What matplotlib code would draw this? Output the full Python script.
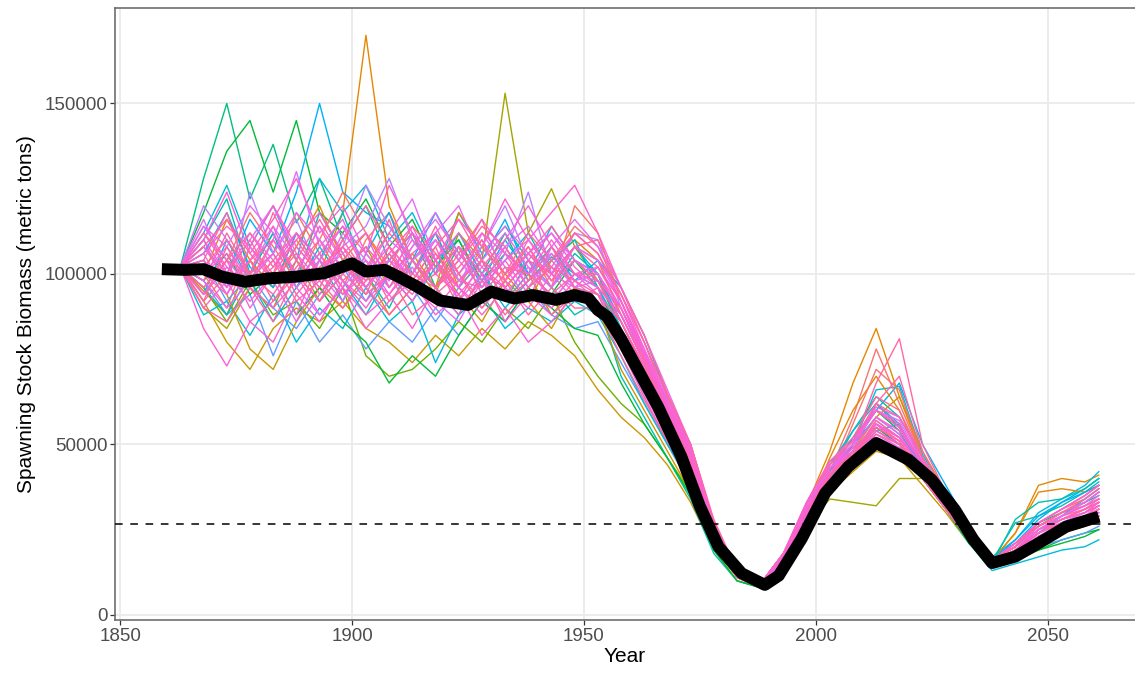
import matplotlib
matplotlib.use("Agg")
import matplotlib.pyplot as plt

# simulation years for the coloured runs
years = [1863, 1868, 1873, 1878, 1883, 1888, 1893, 1898, 1903, 1908,
         1913, 1918, 1923, 1928, 1933, 1938, 1943, 1948, 1953, 1958,
         1963, 1968, 1973, 1978, 1983, 1988, 1993, 1998, 2003, 2008,
         2013, 2018, 2023, 2028, 2033, 2038, 2043, 2048, 2053, 2058, 2061]

# spawning stock biomass of each run, thousand metric tons
runs = [
    [102, 128, 150, 122, 138, 115, 128, 110, 120, 104, 112, 96, 108, 100, 112, 98, 105, 100, 96,
     82, 68, 54, 41, 23, 12, 9, 17, 29, 40, 48, 62, 55, 44, 34, 24, 16, 20, 27, 30, 33, 35],
    [102, 95, 88, 104, 96, 112, 100, 118, 170, 120, 104, 112, 96, 104, 92, 100, 88, 96, 90,
     78, 64, 50, 38, 21, 11, 8, 16, 32, 48, 68, 84, 64, 46, 35, 24, 16, 24, 38, 40, 39, 41],
    [102, 90, 84, 96, 90, 104, 92, 100, 108, 96, 104, 94, 112, 104, 153, 112, 125, 108, 98,
     84, 70, 55, 42, 23, 12, 9, 15, 26, 34, 33, 32, 40, 40, 31, 22, 15, 18, 23, 26, 28, 29],
    [102, 112, 126, 108, 120, 104, 128, 118, 126, 110, 118, 104, 110, 96, 104, 112, 100, 108, 100,
     84, 70, 56, 43, 24, 13, 9, 18, 30, 41, 50, 66, 67, 47, 36, 25, 17, 22, 30, 34, 38, 42],
    [102, 92, 80, 72, 84, 90, 86, 92, 84, 80, 74, 82, 76, 84, 78, 86, 82, 76, 66,
     58, 52, 44, 33, 19, 10, 8, 15, 25, 36, 42, 48, 46, 38, 30, 21, 14, 17, 21, 24, 26, 28],
    [102, 118, 136, 145, 124, 145, 118, 112, 122, 108, 116, 102, 110, 98, 106, 100, 94, 104, 96,
     80, 66, 52, 40, 22, 12, 9, 16, 28, 38, 50, 60, 54, 42, 32, 22, 15, 17, 19, 22, 24, 25],
    [102, 108, 100, 116, 106, 124, 150, 124, 118, 114, 104, 118, 106, 98, 110, 100, 114, 104, 100,
     86, 72, 58, 45, 25, 13, 9, 17, 29, 42, 52, 60, 68, 50, 38, 26, 17, 21, 28, 33, 37, 40],
    [102, 96, 86, 98, 88, 92, 84, 96, 76, 70, 72, 78, 86, 80, 90, 84, 94, 80, 70,
     62, 56, 46, 36, 20, 11, 8, 15, 27, 38, 46, 54, 50, 40, 31, 22, 15, 18, 22, 24, 26, 28],
    [102, 110, 96, 124, 106, 116, 100, 108, 114, 128, 110, 100, 108, 94, 106, 124, 100, 112, 110,
     90, 74, 58, 44, 24, 12, 9, 17, 28, 39, 47, 55, 50, 42, 33, 23, 15, 19, 25, 28, 31, 33],
    [102, 110, 122, 100, 112, 98, 118, 106, 96, 104, 112, 100, 118, 106, 114, 104, 96, 106, 100,
     82, 68, 54, 42, 23, 12, 9, 17, 30, 42, 52, 60, 55, 44, 34, 24, 16, 27, 29, 32, 36, 39],
    [102, 100, 90, 108, 100, 118, 106, 96, 110, 118, 104, 96, 106, 116, 98, 108, 96, 120, 112,
     92, 76, 60, 46, 25, 13, 9, 16, 29, 42, 58, 78, 62, 46, 35, 24, 16, 20, 26, 30, 33, 36],
    [102, 98, 88, 94, 76, 92, 80, 88, 78, 86, 80, 90, 82, 92, 86, 96, 88, 84, 86,
     74, 62, 50, 38, 21, 11, 8, 16, 29, 40, 47, 52, 48, 40, 31, 22, 14, 16, 20, 22, 24, 26],
    [102, 88, 92, 82, 94, 80, 90, 84, 96, 86, 92, 74, 88, 94, 84, 90, 86, 92, 88,
     76, 62, 50, 39, 22, 12, 9, 16, 28, 38, 46, 54, 56, 42, 31, 21, 13, 15, 17, 19, 20, 22],
    [102, 100, 116, 104, 96, 108, 120, 104, 112, 100, 106, 96, 118, 108, 100, 92, 104, 110, 104,
     88, 74, 60, 47, 26, 13, 9, 16, 30, 46, 60, 70, 60, 44, 33, 23, 16, 24, 36, 37, 36, 38],
    [102, 106, 118, 102, 96, 112, 104, 92, 106, 118, 100, 112, 98, 104, 116, 100, 108, 98, 104,
     96, 82, 64, 50, 27, 13, 9, 18, 31, 42, 50, 58, 53, 44, 34, 24, 16, 22, 29, 33, 36, 38],
    [102, 96, 88, 100, 112, 96, 104, 118, 100, 90, 104, 96, 88, 100, 92, 104, 96, 88, 92,
     70, 58, 46, 34, 18, 10, 8, 16, 30, 42, 54, 64, 58, 46, 35, 24, 15, 28, 33, 34, 37, 40],
    [102, 104, 94, 78, 72, 86, 96, 90, 100, 88, 96, 104, 94, 86, 98, 92, 84, 96, 90,
     72, 60, 48, 36, 20, 11, 8, 15, 27, 39, 48, 58, 64, 48, 36, 24, 16, 20, 26, 30, 32, 34],
    [102, 112, 104, 118, 108, 98, 110, 124, 112, 102, 114, 106, 96, 108, 100, 112, 104, 114, 108,
     94, 80, 62, 48, 26, 13, 9, 17, 29, 40, 56, 72, 66, 46, 34, 24, 16, 21, 27, 31, 34, 37],
    [102, 98, 106, 94, 100, 88, 96, 86, 80, 68, 76, 70, 82, 92, 86, 96, 90, 84, 82,
     68, 56, 46, 35, 19, 10, 8, 15, 28, 38, 47, 55, 50, 40, 31, 21, 14, 16, 19, 21, 23, 25],
    [102, 104, 92, 100, 90, 84, 94, 102, 92, 104, 96, 86, 96, 104, 92, 100, 106, 96, 94,
     80, 66, 53, 41, 22, 12, 9, 17, 30, 42, 48, 56, 52, 43, 33, 23, 15, 18, 24, 27, 30, 32],
    [102, 120, 110, 100, 114, 104, 96, 108, 126, 114, 104, 110, 100, 108, 120, 104, 96, 104, 100,
     88, 74, 58, 44, 24, 12, 9, 16, 27, 38, 46, 52, 48, 40, 32, 22, 15, 19, 24, 27, 29, 31],
    [102, 94, 110, 98, 86, 96, 108, 98, 88, 100, 92, 102, 112, 100, 90, 98, 104, 110, 96,
     84, 70, 56, 43, 24, 12, 9, 17, 31, 44, 54, 62, 56, 44, 34, 24, 16, 19, 24, 29, 34, 37],
    [102, 114, 104, 96, 110, 130, 108, 116, 100, 112, 122, 104, 96, 112, 102, 92, 108, 116, 108,
     96, 82, 66, 50, 27, 13, 9, 18, 32, 43, 48, 56, 50, 42, 33, 23, 15, 19, 25, 29, 32, 34],
    [102, 84, 73, 86, 80, 94, 86, 98, 90, 100, 92, 104, 96, 88, 96, 104, 92, 100, 94,
     86, 72, 58, 45, 25, 12, 9, 17, 30, 40, 45, 54, 50, 42, 33, 23, 15, 19, 24, 27, 29, 31],
    [102, 98, 112, 100, 118, 104, 96, 110, 100, 116, 98, 108, 92, 104, 98, 110, 102, 94, 92,
     84, 72, 58, 45, 25, 12, 9, 17, 30, 41, 48, 62, 70, 48, 35, 24, 16, 19, 25, 28, 30, 32],
    [102, 94, 104, 90, 100, 88, 104, 96, 88, 94, 84, 96, 88, 100, 86, 94, 90, 98, 92,
     82, 69, 56, 43, 24, 11, 8, 16, 29, 39, 44, 52, 48, 40, 31, 22, 14, 18, 23, 26, 28, 30],
    [102, 106, 94, 108, 98, 86, 100, 92, 106, 98, 112, 104, 92, 100, 108, 96, 106, 98, 100,
     88, 74, 60, 46, 26, 12, 9, 17, 31, 41, 46, 56, 52, 43, 33, 23, 15, 19, 25, 29, 32, 35],
    [102, 104, 118, 98, 110, 100, 114, 100, 94, 108, 100, 114, 100, 110, 96, 104, 100, 108, 102,
     90, 76, 61, 47, 26, 12, 9, 18, 31, 43, 50, 68, 81, 50, 36, 24, 16, 20, 26, 29, 31, 33],
    [102, 90, 98, 86, 92, 100, 88, 96, 84, 92, 98, 88, 94, 82, 90, 80, 86, 94, 90,
     84, 70, 57, 44, 25, 12, 9, 16, 29, 39, 44, 52, 49, 41, 32, 22, 14, 17, 21, 24, 26, 28],
    [102, 116, 100, 110, 120, 106, 98, 112, 104, 96, 108, 118, 104, 96, 108, 114, 104, 96, 98,
     86, 72, 58, 45, 25, 12, 9, 17, 31, 42, 47, 57, 52, 43, 33, 23, 15, 18, 24, 28, 31, 33],
    [102, 108, 98, 104, 92, 102, 110, 98, 104, 92, 100, 110, 100, 92, 100, 108, 98, 104, 98,
     86, 73, 59, 46, 25, 12, 9, 17, 30, 41, 46, 55, 51, 42, 33, 23, 15, 19, 25, 28, 30, 32],
    [102, 108, 100, 112, 104, 96, 104, 114, 106, 98, 108, 116, 106, 98, 104, 110, 100, 96, 102,
     92, 76, 61, 47, 26, 12, 9, 17, 31, 42, 49, 58, 53, 43, 33, 23, 15, 18, 23, 27, 30, 33],
    [102, 112, 102, 96, 104, 112, 100, 108, 96, 106, 114, 100, 108, 100, 96, 104, 112, 102, 96,
     88, 74, 60, 47, 26, 12, 9, 17, 31, 43, 50, 60, 56, 44, 34, 24, 16, 20, 26, 30, 33, 36],
    [102, 100, 94, 104, 110, 100, 92, 100, 108, 100, 94, 104, 112, 102, 96, 90, 100, 108, 104,
     94, 78, 63, 48, 26, 12, 9, 18, 32, 43, 49, 58, 54, 44, 34, 24, 16, 20, 25, 29, 32, 34],
    [102, 100, 108, 120, 112, 100, 114, 104, 98, 110, 104, 112, 120, 104, 112, 102, 96, 108, 104,
     92, 78, 63, 49, 27, 12, 9, 17, 30, 40, 45, 53, 49, 41, 32, 22, 15, 18, 23, 26, 28, 30],
    [102, 96, 104, 112, 102, 110, 100, 94, 102, 112, 104, 96, 102, 110, 100, 106, 114, 104, 98,
     90, 75, 60, 46, 25, 12, 9, 17, 31, 41, 47, 55, 51, 42, 33, 23, 15, 19, 24, 28, 31, 34],
    [102, 92, 100, 110, 98, 106, 94, 104, 96, 88, 96, 106, 98, 104, 92, 98, 108, 96, 94,
     86, 72, 58, 45, 25, 12, 9, 17, 30, 41, 47, 56, 51, 42, 33, 23, 15, 19, 24, 27, 29, 31],
    [102, 110, 100, 92, 100, 110, 118, 106, 98, 104, 112, 100, 94, 102, 110, 120, 108, 100, 102,
     92, 77, 62, 47, 26, 12, 9, 17, 30, 40, 46, 54, 50, 42, 33, 23, 15, 18, 23, 26, 29, 32],
    [102, 98, 90, 98, 106, 96, 88, 96, 104, 94, 102, 92, 86, 98, 94, 102, 92, 100, 96,
     78, 64, 51, 39, 21, 11, 9, 16, 28, 38, 46, 53, 49, 41, 32, 22, 15, 18, 22, 25, 28, 30],
    [102, 104, 96, 104, 114, 98, 106, 114, 100, 94, 104, 96, 104, 112, 106, 96, 102, 112, 106,
     92, 77, 62, 48, 26, 12, 9, 18, 32, 44, 50, 60, 55, 44, 34, 24, 16, 20, 26, 30, 33, 36],
    [102, 102, 110, 100, 94, 104, 116, 104, 96, 106, 98, 108, 116, 104, 98, 106, 98, 108, 110,
     96, 82, 65, 50, 27, 12, 9, 18, 32, 44, 51, 62, 58, 46, 35, 24, 16, 21, 26, 30, 34, 37],
    [102, 94, 102, 96, 90, 98, 106, 94, 100, 108, 96, 90, 98, 96, 104, 94, 88, 94, 92,
     78, 65, 52, 40, 22, 12, 9, 15, 27, 37, 45, 52, 48, 40, 31, 22, 14, 17, 22, 25, 27, 29],
    [102, 96, 104, 100, 106, 94, 102, 108, 100, 104, 96, 100, 108, 94, 102, 100, 94, 100, 100,
     88, 74, 59, 46, 25, 12, 9, 17, 31, 42, 47, 57, 52, 43, 33, 23, 15, 19, 25, 28, 31, 33],
    [102, 114, 108, 98, 106, 118, 110, 102, 96, 104, 100, 110, 98, 106, 114, 106, 112, 104, 100,
     90, 76, 61, 47, 26, 12, 9, 17, 32, 43, 50, 60, 57, 45, 34, 24, 16, 20, 25, 29, 33, 36],
    [102, 110, 124, 106, 116, 128, 112, 120, 106, 126, 112, 104, 116, 108, 122, 110, 118, 126, 112,
     96, 80, 64, 49, 27, 12, 9, 18, 33, 45, 51, 61, 58, 46, 35, 24, 16, 21, 27, 31, 35, 38],
    [102, 108, 116, 106, 98, 108, 100, 110, 120, 108, 100, 96, 104, 114, 108, 98, 104, 112, 106,
     94, 80, 64, 50, 28, 13, 9, 18, 33, 45, 52, 64, 60, 46, 35, 24, 16, 20, 27, 31, 35, 38],
    [102, 100, 106, 96, 102, 112, 104, 98, 92, 100, 110, 102, 96, 90, 98, 106, 100, 92, 96,
     88, 74, 60, 46, 25, 12, 9, 17, 31, 42, 48, 56, 52, 43, 33, 23, 15, 19, 24, 28, 30, 33],
    [102, 90, 86, 96, 104, 92, 98, 90, 98, 106, 96, 104, 90, 98, 88, 96, 102, 98, 94,
     80, 66, 52, 40, 22, 12, 9, 15, 26, 36, 44, 51, 47, 40, 31, 22, 14, 17, 21, 24, 27, 29],
    [102, 92, 108, 96, 86, 100, 92, 104, 94, 100, 88, 94, 100, 90, 98, 88, 96, 90, 90,
     76, 63, 51, 39, 21, 11, 8, 15, 26, 37, 45, 53, 50, 41, 32, 22, 15, 18, 23, 26, 28, 31],
    [102, 106, 114, 108, 120, 108, 100, 106, 112, 96, 106, 112, 104, 116, 106, 100, 110, 100, 98,
     90, 76, 61, 47, 26, 12, 9, 18, 33, 45, 51, 60, 55, 45, 34, 24, 16, 21, 27, 31, 35, 38],
]

run_colors = ["#00BF7D", "#E58700", "#A3A500", "#00BCD8", "#C99800", "#00BA38",
              "#00B0F6", "#6BB100", "#B983FF", "#00C0AF", "#F8766D", "#619CFF",
              "#00BCD8", "#E58700", "#00B0F6", "#00C0AF", "#C99800", "#F8766D",
              "#00BA38", "#619CFF", "#B983FF", "#00BCD8", "#E76BF3", "#FD61D1",
              "#FF67A4", "#FD61D1", "#E76BF3", "#FF67A4", "#FD61D1", "#E76BF3",
              "#FF67A4", "#E76BF3", "#FD61D1", "#FD61D1", "#E76BF3", "#FF67A4",
              "#FF67A4", "#FD61D1", "#E76BF3", "#FD61D1", "#FF67A4", "#FD61D1",
              "#FF67A4", "#E76BF3", "#FD61D1", "#FF67A4", "#FD61D1", "#FF67A4",
              "#FF67A4", "#FD61D1"]

# thick black line (base run), thousand metric tons
base_years = [1859, 1864, 1868, 1872, 1877, 1882, 1888, 1894, 1900, 1903,
              1907, 1910, 1914, 1919, 1925, 1930, 1935, 1939, 1944, 1948,
              1951, 1953, 1955, 1958, 1966, 1971, 1975, 1979, 1984, 1989,
              1992, 1997, 2002, 2007, 2013, 2020, 2025, 2030, 2034, 2038,
              2043, 2048, 2054, 2061]
base_ssb = [101.4, 101.2, 101.4, 99.2, 97.7, 98.7, 99.2, 100.2, 103.1, 100.7,
            101.2, 99.2, 96.3, 92.2, 90.9, 94.8, 92.8, 93.8, 92.4, 93.8,
            92.8, 89.4, 87.5, 81.0, 61.0, 46.4, 31.8, 20.0, 12.2, 8.8,
            11.5, 22.5, 35.7, 43.5, 50.4, 45.5, 39.6, 30.8, 22.0, 15.2,
            17.1, 21.0, 25.9, 28.8]

reference_level = 26700

plt.rcParams['font.family'] = ['Liberation Sans', 'DejaVu Sans']

fig = plt.figure(figsize=(11.35, 6.78), dpi=100)
ax = fig.add_axes([115 / 1135, 58 / 678, 1020 / 1135, 612 / 678])

for run, col in zip(runs, run_colors):
    ax.plot(years, [v * 1000 for v in run], color=col, lw=1.0, zorder=2)

ax.axhline(reference_level, color="black", lw=1.1, linestyle=(0, (5, 5)), zorder=3)
ax.plot(base_years, [v * 1000 for v in base_ssb], color="black", lw=8.6,
        solid_capstyle="butt", solid_joinstyle="round", zorder=4)

ax.set_xlim(1848.9, 2068.8)
ax.set_ylim(-1500, 178000)
ax.set_xticks([1850, 1900, 1950, 2000, 2050])
ax.set_xticklabels(["1850", "1900", "1950", "2000", "2050"])
ax.set_yticks([0, 50000, 100000, 150000])
ax.set_yticklabels(["0", "50000", "100000", "150000"])

ax.grid(True, color="#EBEBEB", lw=1.3, zorder=0)
ax.set_axisbelow(True)
for side in ["left", "top", "bottom"]:
    ax.spines[side].set_color("#6E6E6E")
    ax.spines[side].set_linewidth(1.2)
ax.spines["right"].set_visible(False)
ax.tick_params(axis="both", direction="out", length=3.5, width=0.9,
               color="#333333", labelcolor="#4D4D4D", labelsize=13.5, pad=2)

ax.set_xlabel("Year", fontsize=15, labelpad=2)
ax.set_ylabel("Spawning Stock Biomass (metric tons)", fontsize=15, labelpad=6)

fig.savefig("out.png", dpi=100)
